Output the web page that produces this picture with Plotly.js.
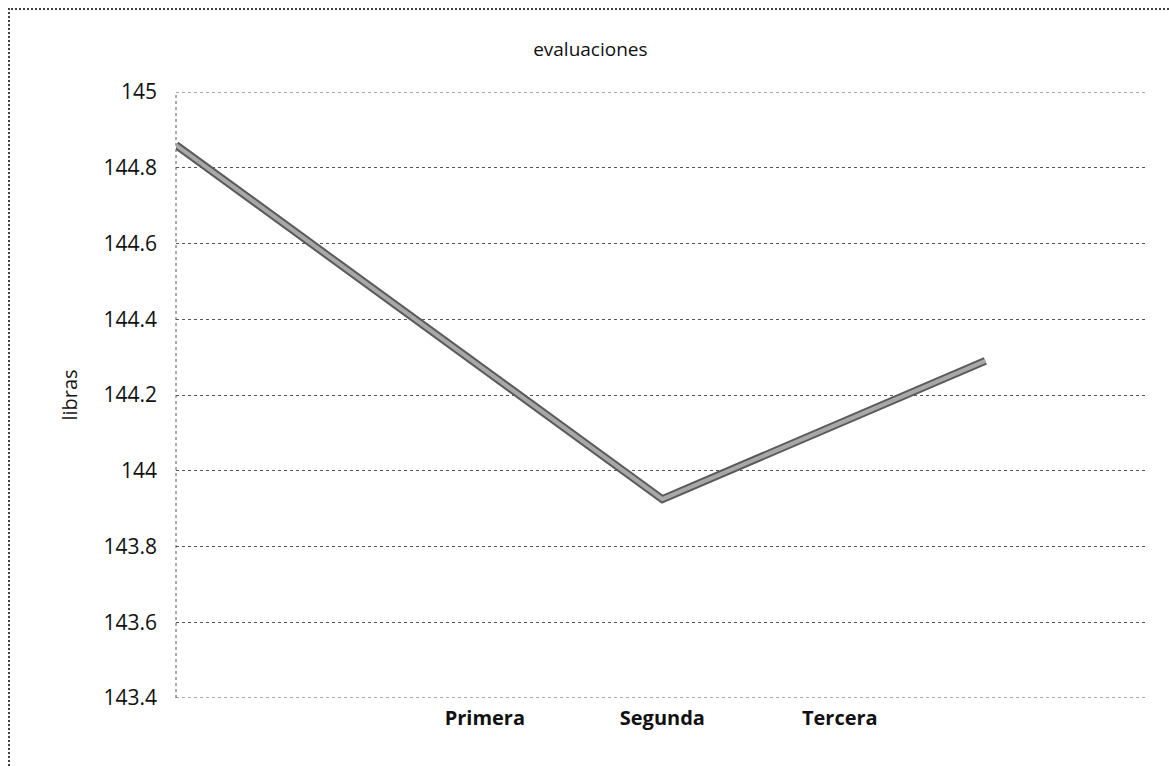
<!DOCTYPE html>
<html>
<head>
<meta charset="utf-8">
<script src="https://cdn.plot.ly/plotly-3.0.1.min.js"></script>
<style>
  html, body { margin: 0; padding: 0; background: #fff; }
  #frame { position: absolute; left: 8px; top: 8px; width: 1161px; height: 758px;
           border-left: 2px dotted #444; border-top: 2px dotted #444; box-sizing: border-box; pointer-events: none; z-index: 5; }
  #chart { width: 1169px; height: 766px; }
</style>
</head>
<body>
<div id="frame"></div>
<div id="chart"></div>
<script>
// Category labels and their positions on the horizontal axis
const categories = ["Primera", "Segunda", "Tercera"];
const categoryPos = [1, 2, 3];
// The plotted line (x positions as drawn in the original, y in libras)
const lineX = [-0.74, 2.0, 3.82];
const lineY = [144.86, 143.925, 144.29];
const yTicks = [143.4, 143.6, 143.8, 144, 144.2, 144.4, 144.6, 144.8, 145];
const yTickText = ["143.4", "143.6", "143.8", "144", "144.2", "144.4", "144.6", "144.8", "145"];
const yMin = 143.4, yMax = 145;

const font = "Open Sans, Noto Sans, sans-serif";
const gridStyle = { color: "#555", width: 1, dash: "dot" };

const traces = [
  { x: lineX, y: lineY, mode: "lines", type: "scatter", hoverinfo: "skip",
    line: { color: "#5a5a5a", width: 8 }, showlegend: false, cliponaxis: false },
  { x: lineX, y: lineY, mode: "lines", type: "scatter",
    line: { color: "#a8a8a8", width: 4 }, showlegend: false, cliponaxis: false }
];

const shapes = [
  { type: "line", xref: "paper", yref: "y", x0: 0, x1: 1, y0: yMax, y1: yMax, line: gridStyle, layer: "below" },
  { type: "line", xref: "paper", yref: "y", x0: 0, x1: 1, y0: yMin, y1: yMin, line: gridStyle, layer: "below" },
  { type: "line", xref: "paper", yref: "y", x0: 0, x1: 0, y0: yMin, y1: yMax, line: gridStyle, layer: "below" }
];

const layout = {
  width: 1169, height: 766,
  margin: { l: 176, r: 23, t: 92, b: 68 },
  paper_bgcolor: "#fff", plot_bgcolor: "#fff",
  title: { text: "evaluaciones", x: 0.505, xanchor: "center", y: 0.935, yanchor: "middle",
           font: { family: font, size: 19, color: "#111" } },
  xaxis: {
    range: [-0.74, 4.725],
    tickmode: "array", tickvals: categoryPos, ticktext: categories,
    tickfont: { family: font, size: 20, color: "#111", weight: "bold" },
    showgrid: false, zeroline: false, showline: false, ticks: "", ticklabelstandoff: 6
  },
  yaxis: {
    range: [yMin, yMax],
    tickmode: "array", tickvals: yTicks, ticktext: yTickText,
    tickfont: { family: font, size: 21, color: "#111" },
    showgrid: true, gridcolor: "#555", griddash: "dot", gridwidth: 1,
    zeroline: false, showline: false,
    ticks: "", ticklabelstandoff: 18,
    title: { text: "libras", font: { family: font, size: 20, color: "#111" }, standoff: 20 }
  },
  shapes: shapes
};

Plotly.newPlot("chart", traces, layout, { displayModeBar: false, staticPlot: true });
</script>
</body>
</html>
